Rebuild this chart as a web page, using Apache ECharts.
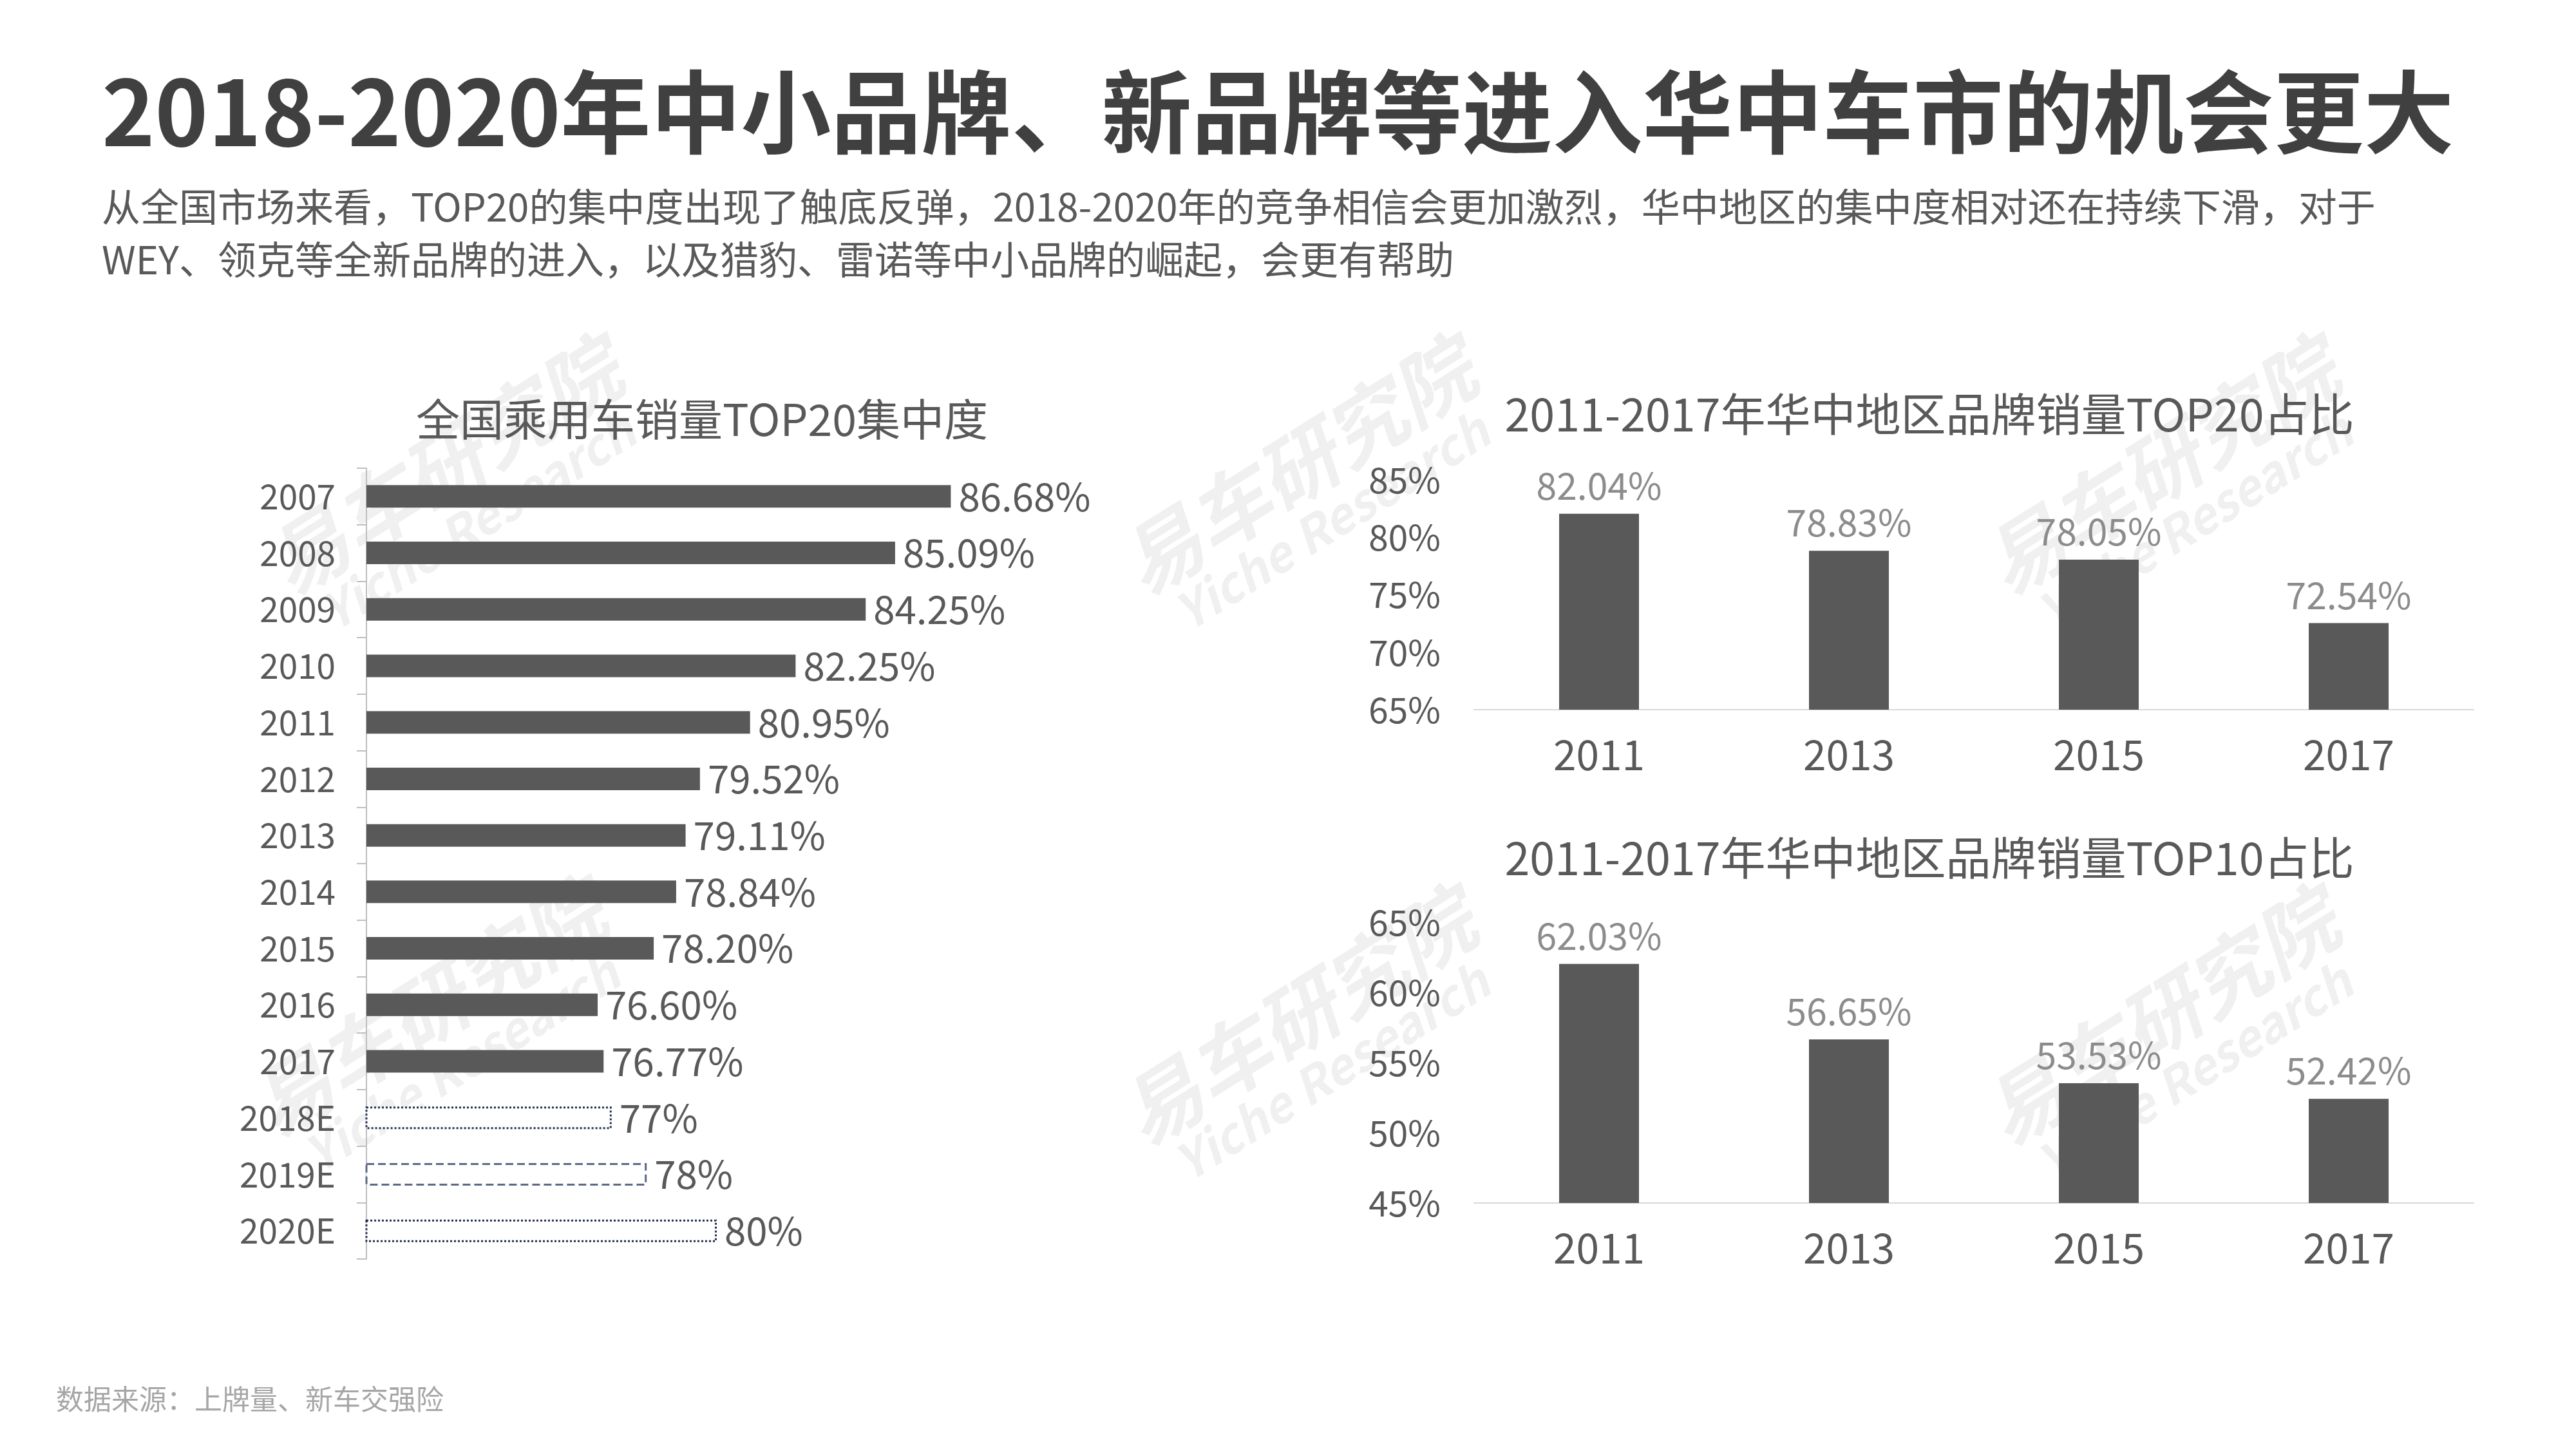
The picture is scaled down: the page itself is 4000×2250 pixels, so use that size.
<!DOCTYPE html>
<html>
<head>
<meta charset="utf-8">
<script src="https://cdn.jsdelivr.net/npm/echarts@6/dist/echarts.min.js"></script>
<style>
  html, body { margin: 0; padding: 0; background: #fff; }
  #chart { width: 4000px; height: 2250px; }
</style>
</head>
<body>
<div id="chart"></div>
<script>
// 全国乘用车销量TOP20集中度
const years = ['2007', '2008', '2009', '2010', '2011', '2012', '2013', '2014', '2015', '2016', '2017', '2018E', '2019E', '2020E'];
const top20National = [86.68, 85.09, 84.25, 82.25, 80.95, 79.52, 79.11, 78.84, 78.20, 76.60, 76.77, 77, 78, 80];

// 华中地区
const regionYears = ['2011', '2013', '2015', '2017'];
const top20Central = [82.04, 78.83, 78.05, 72.54];
const top10Central = [62.03, 56.65, 53.53, 52.42];

const FONT = '"Noto Sans CJK SC", "Noto Sans", sans-serif';
const barColor = '#595959';
const textColor = '#595959';

const chart = echarts.init(document.getElementById('chart'));

// watermark groups
const marks = [[714, 765], [2040, 765], [3380, 765], [689, 1607], [2040, 1620], [3380, 1620]];
const watermark = marks.map(p => ({
  type: 'group',
  x: p[0], y: p[1],
  rotation: 0.56,
  z: -1,
  silent: true,
  children: [
    { type: 'text', x: 0, y: -48, style: { text: '易车研究院', fill: '#f0f0f0', font: 'italic bold 124px ' + FONT, textAlign: 'center', textVerticalAlign: 'middle' } },
    { type: 'text', x: 0, y: 52, style: { text: 'Yiche Research', fill: '#f0f0f0', font: 'italic bold 76px ' + FONT, textAlign: 'center', textVerticalAlign: 'middle' } }
  ]
}));

const isEst = (name) => name.indexOf('E') > 0;

const leftData = top20National.map((v, i) => {
  if (!isEst(years[i])) return v;
  return {
    value: v,
    itemStyle: {
      color: '#ffffff',
      borderColor: i === 12 ? '#5d6884' : '#25304f',
      borderWidth: 3,
      borderType: i === 12 ? 'dashed' : 'dotted'
    }
  };
});

const pctLabel = (dec) => (v) => v.toFixed(dec) + '%';

const options = {
  backgroundColor: '#ffffff',
  animation: false,
  textStyle: { fontFamily: FONT },
  graphic: [
    ...watermark,
    { type: 'text', x: 158, y: 174, style: { text: '2018-2020年中小品牌、新品牌等进入华中车市的机会更大', fill: '#404040', font: 'bold 140px ' + FONT, textVerticalAlign: 'middle' } },
    { type: 'text', x: 158, y: 321, style: { text: '从全国市场来看，TOP20的集中度出现了触底反弹，2018-2020年的竞争相信会更加激烈，华中地区的集中度相对还在持续下滑，对于', fill: '#595959', font: '60px ' + FONT, textVerticalAlign: 'middle' } },
    { type: 'text', x: 158, y: 403, style: { text: 'WEY、领克等全新品牌的进入，以及猎豹、雷诺等中小品牌的崛起，会更有帮助', fill: '#595959', font: '60px ' + FONT, textVerticalAlign: 'middle' } },
    { type: 'text', x: 87, y: 2173, style: { text: '数据来源：上牌量、新车交强险', fill: '#a6a6a6', font: '43px ' + FONT, textVerticalAlign: 'middle' } }
  ],
  title: [
    { text: '全国乘用车销量TOP20集中度', left: 1085, top: 612, textAlign: 'center', textStyle: { fontSize: 68, fontWeight: 'normal', color: textColor, fontFamily: FONT } },
    { text: '2011-2017年华中地区品牌销量TOP20占比', left: 2991, top: 603, textAlign: 'center', textStyle: { fontSize: 70, fontWeight: 'normal', color: textColor, fontFamily: FONT } },
    { text: '2011-2017年华中地区品牌销量TOP10占比', left: 2991, top: 1292, textAlign: 'center', textStyle: { fontSize: 70, fontWeight: 'normal', color: textColor, fontFamily: FONT } }
  ],
  grid: [
    { left: 569, top: 727, width: 1088, height: 1228 },
    { left: 2289, top: 745, width: 1552, height: 357 },
    { left: 2289, top: 1432, width: 1552, height: 436 }
  ],
  xAxis: [
    { gridIndex: 0, type: 'value', min: 70, max: 90, show: false },
    {
      gridIndex: 1, type: 'category', data: regionYears,
      axisLine: { lineStyle: { color: '#d9d9d9', width: 2 } },
      axisTick: { show: false },
      axisLabel: { fontSize: 64, color: textColor, margin: 38, fontFamily: FONT }
    },
    {
      gridIndex: 2, type: 'category', data: regionYears,
      axisLine: { lineStyle: { color: '#d9d9d9', width: 2 } },
      axisTick: { show: false },
      axisLabel: { fontSize: 64, color: textColor, margin: 38, fontFamily: FONT }
    }
  ],
  yAxis: [
    {
      gridIndex: 0, type: 'category', data: years, inverse: true,
      axisLine: { lineStyle: { color: '#bfbfbf', width: 2 } },
      axisTick: { show: true, length: 15, lineStyle: { color: '#bfbfbf', width: 2 } },
      axisLabel: { fontSize: 53, color: textColor, margin: 48, fontFamily: FONT }
    },
    {
      gridIndex: 1, type: 'value', min: 65, max: 85, interval: 5,
      axisLine: { show: false }, axisTick: { show: false }, splitLine: { show: false },
      axisLabel: { fontSize: 55, color: textColor, margin: 52, formatter: '{value}%', fontFamily: FONT }
    },
    {
      gridIndex: 2, type: 'value', min: 45, max: 65, interval: 5,
      axisLine: { show: false }, axisTick: { show: false }, splitLine: { show: false },
      axisLabel: { fontSize: 55, color: textColor, margin: 52, formatter: '{value}%', fontFamily: FONT }
    }
  ],
  series: [
    {
      type: 'bar', xAxisIndex: 0, yAxisIndex: 0,
      data: leftData, barWidth: 35,
      itemStyle: { color: barColor },
      label: {
        show: true, position: 'right', distance: 12,
        fontSize: 60, color: textColor, fontFamily: FONT,
        formatter: (p) => isEst(p.name) ? Math.round(p.value) + '%' : pctLabel(2)(p.value)
      }
    },
    {
      type: 'bar', xAxisIndex: 1, yAxisIndex: 1,
      data: top20Central, barWidth: 124,
      itemStyle: { color: barColor },
      label: { show: true, position: 'top', distance: 15, fontSize: 57, color: '#8c8c8c', fontFamily: FONT, formatter: (p) => pctLabel(2)(p.value) }
    },
    {
      type: 'bar', xAxisIndex: 2, yAxisIndex: 2,
      data: top10Central, barWidth: 124,
      itemStyle: { color: barColor },
      label: { show: true, position: 'top', distance: 15, fontSize: 57, color: '#8c8c8c', fontFamily: FONT, formatter: (p) => pctLabel(2)(p.value) }
    }
  ]
};

chart.setOption(options);
</script>
</body>
</html>
